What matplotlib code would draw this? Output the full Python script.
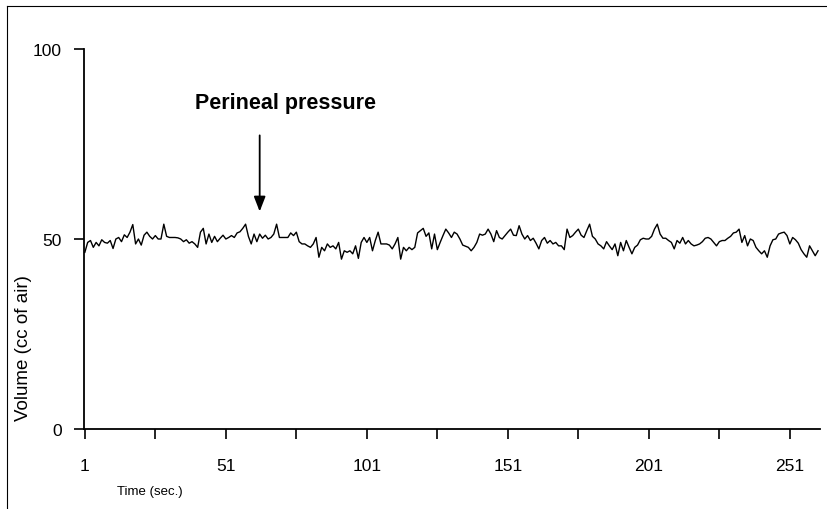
import matplotlib
matplotlib.use("Agg")
import matplotlib.pyplot as plt
from matplotlib.lines import Line2D

# ---- data ----
volume = [
    46.5, 49.1, 49.6, 47.8, 49.1, 48.2, 49.8, 49.1, 48.9, 49.6,
    47.5, 50.0, 50.4, 49.3, 51.1, 50.4, 51.8, 53.8, 48.7, 50.0,
    48.4, 51.0, 51.8, 50.7, 50.0, 50.9, 50.0, 50.0, 53.9, 50.7,
    50.4, 50.4, 50.4, 50.3, 50.0, 49.3, 49.8, 48.9, 49.3, 48.7,
    47.8, 51.8, 52.8, 48.7, 51.3, 49.1, 50.7, 49.3, 50.2, 51.0,
    50.0, 50.4, 50.9, 50.4, 51.6, 51.9, 52.8, 53.9, 50.7, 48.7,
    51.3, 49.3, 51.3, 50.2, 51.0, 50.0, 50.4, 51.3, 53.9, 50.4,
    50.4, 50.4, 50.4, 51.6, 50.9, 51.8, 49.3, 48.7, 48.7, 48.2,
    47.8, 48.7, 50.4, 45.2, 47.8, 46.9, 48.7, 47.8, 48.2, 47.4,
    49.1, 44.7, 46.9, 46.5, 46.9, 46.1, 48.2, 44.9, 49.1, 50.4,
    49.1, 50.4, 46.9, 49.6, 51.8, 48.7, 48.7, 48.7, 48.4, 47.4,
    48.7, 50.4, 44.7, 47.8, 46.9, 47.8, 47.2, 47.8, 51.6, 52.2,
    52.8, 50.7, 51.6, 47.4, 51.3, 47.2, 49.1, 50.9, 52.6, 51.6,
    50.4, 51.8, 51.3, 50.0, 48.4, 48.1, 47.8, 46.9, 47.8, 49.1,
    51.3, 51.0, 51.3, 52.6, 51.3, 49.3, 52.2, 50.4, 50.0, 50.9,
    51.8, 52.6, 51.0, 50.9, 53.5, 51.3, 50.0, 50.9, 49.6, 50.2,
    48.9, 47.4, 49.6, 50.4, 48.9, 49.6, 48.7, 49.1, 48.2, 48.2,
    47.2, 52.6, 50.4, 50.9, 51.8, 52.6, 51.0, 50.4, 52.2, 53.9,
    50.7, 50.0, 48.7, 48.2, 47.4, 49.3, 48.2, 47.2, 48.7, 45.6,
    49.1, 46.9, 49.6, 47.8, 46.1, 47.8, 48.4, 49.8, 50.2, 50.0,
    50.0, 50.7, 52.6, 53.9, 51.3, 50.2, 50.2, 49.6, 49.1, 47.4,
    49.6, 48.9, 50.4, 48.7, 49.6, 48.7, 48.2, 48.4, 48.7, 49.3,
    50.2, 50.4, 50.0, 49.1, 48.2, 49.3, 49.6, 49.6, 50.2, 50.7,
    51.6, 51.8, 52.6, 49.1, 50.9, 48.2, 50.0, 49.6, 47.8, 46.9,
    46.1, 46.9, 45.2, 48.2, 49.8, 50.0, 51.3, 51.6, 51.8, 50.9,
    48.7, 50.4, 49.8, 48.9, 47.2, 46.1, 45.2, 48.2, 46.9, 45.6,
    46.9,
]
time = list(range(1, len(volume) + 1))
x_ticklabels = ["1", "51", "101", "151", "201", "251"]
x_labelpos = [1, 51, 101, 151, 201, 251]
y_ticks = [0, 50, 100]
annotation_text = "Perineal pressure"
arrow_time = 63

W, H = 828, 510
fig = plt.figure(figsize=(W / 100, H / 100), dpi=100)
fig.patch.set_facecolor("white")

ax_left, ax_right, ax_top, ax_bottom = 84, 820, 50, 430
ax = fig.add_axes([ax_left / W, 1 - ax_bottom / H,
                   (ax_right - ax_left) / W, (ax_bottom - ax_top) / H])

ax.plot(time, volume, color="black", lw=1.0)

ax.set_xlim(0.7, 261.7)
ax.set_ylim(0, 100)

for s in ("top", "right"):
    ax.spines[s].set_visible(False)
for s in ("left", "bottom"):
    ax.spines[s].set_linewidth(1.3)
    ax.spines[s].set_color("black")

tickfont = ["Liberation Sans Narrow", "Liberation Sans", "DejaVu Sans"]

ax.set_xticks(list(range(1, 262, 25)))
ax.set_xticklabels([str(v) if v in x_labelpos else "" for v in range(1, 262, 25)],
                   family=tickfont, fontsize=12.5)
ax.tick_params(axis="x", direction="out", length=7, width=1.2, pad=14)

ax.set_yticks(y_ticks)
ax.set_yticklabels([str(v) for v in y_ticks], family=tickfont, fontsize=12.5)
ax.tick_params(axis="y", direction="out", length=7, width=1.2, pad=9)

# annotation
ax.annotate("", xy=(arrow_time, 56.5), xytext=(arrow_time, 78.0),
            arrowprops=dict(arrowstyle="-|>,head_length=0.9,head_width=0.35",
                            color="black", lw=1.3))
ax.text(72, 86, annotation_text, ha="center", va="center",
        fontsize=15.5, fontweight="bold", family=["Liberation Sans", "DejaVu Sans"])

# axis titles
fig.text(24 / W, 1 - 348 / H, "Volume (cc of air)", rotation=90,
         ha="center", va="center", fontsize=13.5, family=tickfont)
fig.text(117 / W, 1 - 492 / H, "Time (sec.)", ha="left", va="center",
         fontsize=9.5, family=tickfont)

# outer frame lines (left and top)
fig.add_artist(Line2D([7 / W, 7 / W], [0, 1 - 7 / H], transform=fig.transFigure,
                      color="black", lw=0.8))
fig.add_artist(Line2D([7 / W, 1], [1 - 7 / H, 1 - 7 / H], transform=fig.transFigure,
                      color="black", lw=0.8))

fig.savefig("out.png", dpi=100)
